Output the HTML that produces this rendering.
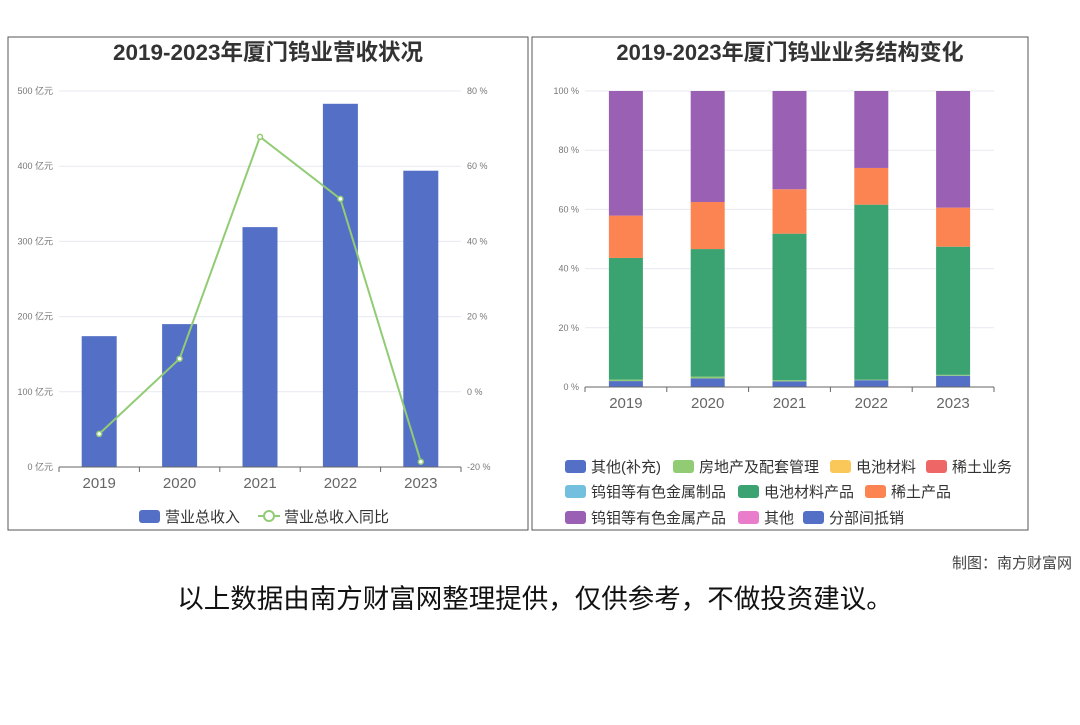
<!DOCTYPE html>
<html><head><meta charset="utf-8"><style>
body{margin:0;background:#fff;width:1080px;height:720px;overflow:hidden;font-family:"Liberation Sans","Noto Sans CJK SC",sans-serif;}
svg text{font-family:"Liberation Sans","Noto Sans CJK SC",sans-serif;}
</style></head><body>
<svg id="s" width="1080" height="720">
<rect x="8" y="37" width="520" height="493" fill="none" stroke="#555"/>
<rect x="532" y="37" width="496" height="493" fill="none" stroke="#555"/>
<text x="268" y="60" text-anchor="middle" font-size="22.5" font-weight="bold" fill="#333">2019-2023年厦门钨业营收状况</text>
<text x="790" y="60" text-anchor="middle" font-size="22" font-weight="bold" fill="#333">2019-2023年厦门钨业业务结构变化</text>
<g id="L"></g><g id="R"></g>
<text x="1072" y="568" text-anchor="end" font-size="15" fill="#444">制图：南方财富网</text>
<text x="535" y="608" text-anchor="middle" font-size="26.5" fill="#111">以上数据由南方财富网整理提供，仅供参考，不做投资建议。</text>
</svg>
<script>
const years=['2019','2020','2021','2022','2023'];
const revenue=[174,190,319,483,394];
const growth=[-11.2,8.8,67.8,51.3,-18.6];
const revTicks=[0,100,200,300,400,500];
const pctTicks=[-20,0,20,40,60,80];
const sOther=[2.0,2.9,1.9,2.3,3.8];
const sRealEstate=[0.5,0.6,0.4,0.2,0.3];
const sBattery=[41.1,43.1,49.5,59.1,43.3];
const sRareEarth=[14.3,15.9,15.0,12.4,13.2];
const sTungsten=[42.1,37.5,33.2,26.0,39.4];
const stackSeries=[sOther,sRealEstate,sBattery,sRareEarth,sTungsten];
const stackColors=['#5470c6','#91cc75','#3ba272','#fc8452','#9a60b4'];
const stackNames=['seg-other','seg-real-estate','seg-battery','seg-rare-earth','seg-tungsten'];
const ns='http://www.w3.org/2000/svg';
function mk(p,t,a){const e=document.createElementNS(ns,t);for(const k in a)e.setAttribute(k,a[k]);p.appendChild(e);return e;}
function tx(p,x,y,s,a){const e=mk(p,'text',Object.assign({x:x,y:y},a));e.textContent=s;return e;}
const L=document.getElementById('L');
const lx0=59,lx1=461,ly0=467,ly1=91,cw=(lx1-lx0)/5;
const yR=v=>ly0-(v/500)*(ly0-ly1);
const yP=v=>ly0-((v+20)/100)*(ly0-ly1);
const xC=i=>lx0+cw*(i+0.5);
revTicks.forEach((t,i)=>{const y=yR(t);
 if(t>0){const g=mk(L,'line',{x1:lx0,x2:lx1,y1:y,y2:y,stroke:'#e6e9f0'});}
 const a=tx(L,53,y+3,t+' 亿元',{'text-anchor':'end','font-size':9,fill:'#777'});
 const b=tx(L,467,yP(pctTicks[i])+3,pctTicks[i]+' %',{'font-size':9,fill:'#777'});});
revenue.forEach((v,i)=>{const r=mk(L,'rect',{x:xC(i)-17.5,y:yR(v),width:35,height:ly0-yR(v),fill:'#5470c6'});
 });
mk(L,'line',{x1:lx0,x2:lx1,y1:ly0,y2:ly0,stroke:'#666'});
for(let i=0;i<=5;i++)mk(L,'line',{x1:lx0+cw*i,x2:lx0+cw*i,y1:ly0,y2:ly0+5,stroke:'#666'});
years.forEach((y,i)=>{const t=tx(L,xC(i),488,y,{'text-anchor':'middle','font-size':15,fill:'#666'});});
const pl=mk(L,'polyline',{points:growth.map((v,i)=>xC(i)+','+yP(v)).join(' '),fill:'none',stroke:'#91cc75','stroke-width':2});

growth.forEach((v,i)=>{const c=mk(L,'circle',{cx:xC(i),cy:yP(v),r:2.5,fill:'#fff',stroke:'#91cc75','stroke-width':1.5});});
let lg=mk(L,'rect',{x:139,y:510,width:21,height:13,rx:3,fill:'#5470c6'});
tx(L,165,522,'营业总收入',{'font-size':15,fill:'#333'});
mk(L,'line',{x1:258,x2:280,y1:516,y2:516,stroke:'#91cc75','stroke-width':2});
mk(L,'circle',{cx:269,cy:516,r:5,fill:'#fff',stroke:'#91cc75','stroke-width':2});
tx(L,284,522,'营业总收入同比',{'font-size':15,fill:'#333'});
const R=document.getElementById('R');
const rx0=585,rx1=994,ry0=387,ry1=91,rw=(rx1-rx0)/5;
const yS=v=>ry0-v/100*(ry0-ry1);const xR=i=>rx0+rw*(i+0.5);
[0,20,40,60,80,100].forEach(t=>{const y=yS(t);
 if(t>0){const g=mk(R,'line',{x1:rx0,x2:rx1,y1:y,y2:y,stroke:'#e6e9f0'});}
 const a=tx(R,579,y+3,t+' %',{'text-anchor':'end','font-size':9,fill:'#777'});});
years.forEach((y,i)=>{let acc=0;stackSeries.forEach((s,k)=>{const v=s[i];
 const r=mk(R,'rect',{x:xR(i)-17,y:yS(acc+v),width:34,height:yS(acc)-yS(acc+v),fill:stackColors[k]});
 acc+=v;});});
mk(R,'line',{x1:rx0,x2:rx1,y1:ry0,y2:ry0,stroke:'#666'});
for(let i=0;i<=5;i++)mk(R,'line',{x1:rx0+rw*i,x2:rx0+rw*i,y1:ry0,y2:ry0+5,stroke:'#666'});
years.forEach((y,i)=>{const t=tx(R,xR(i),408,y,{'text-anchor':'middle','font-size':15,fill:'#666'});});
const legItems=[['其他(补充)','#5470c6',565,466],['房地产及配套管理','#91cc75',673,466],['电池材料','#fac858',830,466],['稀土业务','#ee6666',926,466],
['钨钼等有色金属制品','#73c0de',565,491],['电池材料产品','#3ba272',738,491],['稀土产品','#fc8452',865,491],
['钨钼等有色金属产品','#9a60b4',565,517],['其他','#ea7ccc',738,517],['分部间抵销','#5470c6',803,517]];
legItems.forEach(it=>{const r=mk(R,'rect',{x:it[2],y:it[3]-6,width:21,height:13,rx:3,fill:it[1]});
 
 tx(R,it[2]+26,it[3]+6,it[0],{'font-size':15,fill:'#333'});});
</script>
</body></html>
